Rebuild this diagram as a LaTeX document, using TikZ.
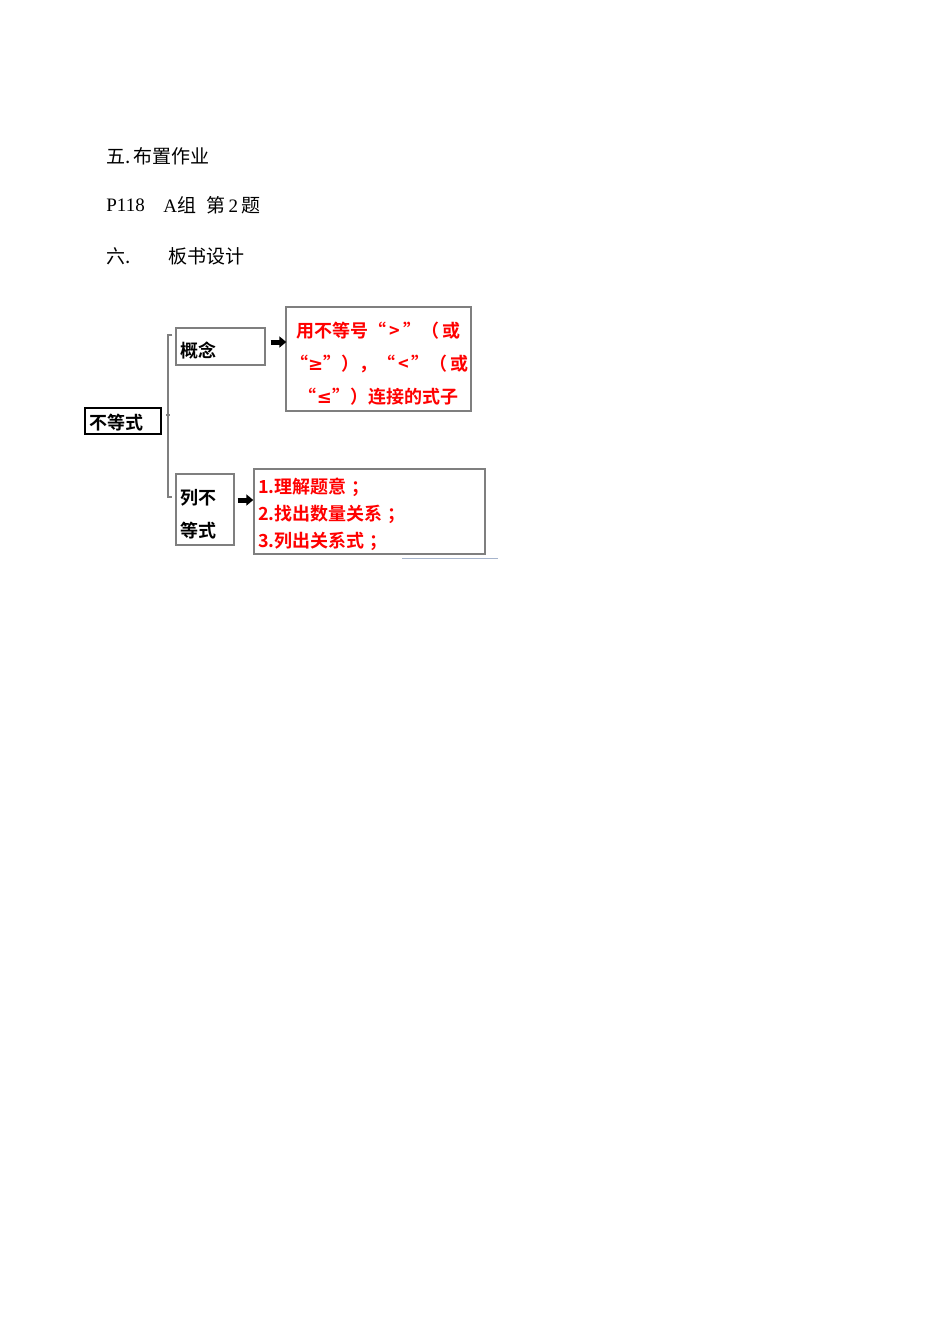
\documentclass[tikz,border=0pt]{standalone}
\usepackage{fontspec}
\usetikzlibrary{arrows.meta,calc}
\newfontfamily\cjk[BoldFont={Noto Sans CJK SC Bold}]{Noto Sans CJK SC}
\newfontfamily\ser{Liberation Serif}
\newfontfamily\symf{DejaVu Sans}
\newcommand\dnx[1]{\rule{0pt}{#1}}
\definecolor{boxgray}{HTML}{7F7F7F}
\definecolor{lineblue}{HTML}{A6B4CC}
\tikzset{
  head/.style={anchor=west, inner sep=0pt, font=\cjk\fontsize{9.5}{11}\selectfont},
  catbox/.style={draw=boxgray, line width=0.7pt, inner xsep=2pt, inner ysep=0pt, align=left,
     font=\cjk\bfseries\fontsize{9}{16.5}\selectfont},
  redbox/.style={draw=boxgray, line width=0.7pt, inner xsep=2pt, inner ysep=0pt, text=red,
     font=\cjk\bfseries\fontsize{9}{16.5}\selectfont},
  brk/.style={draw=boxgray, line width=1pt},
  bigarrow/.style={line width=2.5pt, -{Triangle[length=3.5pt,width=5.5pt]}}
}
\begin{document}
\begin{tikzpicture}[x=0.5pt,y=-0.5pt]
\fill[white] (0,0) rectangle (950,1344);
\useasboundingbox (0,0) rectangle (950,1344);
% headings
\node[head] (h5) at (106,156) {五.\,布置作业};
\node[head, font=\ser\fontsize{9.5}{11}\selectfont] (p118) at (106,205) {P118};
\node[head] (agrp) at (163,205) {{\ser A}组};
\node[head] (q2) at (206,205) {第{\ser\,2\,}题};
\node[head] (h6) at (106,256) {六.};
\node[head] (bsj) at (168,256) {板书设计};
% diagram
\node[catbox, draw=black, line width=0.8pt, minimum height=13pt, text width=34pt] (bds) at (123,421) {\dnx{9.3pt}不等式};
\node[catbox, minimum height=18.5pt, text width=40.5pt] (gn) at (220.5,346.5) {\dnx{11.8pt}概念};
\node[redbox, minimum height=52pt, text width=88.5pt, align=center] (r1) at (378.5,359)
  {\dnx{12.3pt}用不等号“\,>\,”（\,或\\“{\symf\bfseries ≥}”），“\,<\,”（\,或\\“{\symf\bfseries ≤}”）连接的式子};
\node[catbox, minimum height=35.5pt, text width=25pt] (lbs) at (205,509.5) {\dnx{12.8pt}列不\\等式};
\node[redbox, minimum height=42.5pt, text width=111.5pt, align=left,
  font=\cjk\bfseries\fontsize{9}{13.5}\selectfont] (r2) at (369.5,511.5)
  {\dnx{10.8pt}1.理解题意\hspace{2.5pt}；\\2.找出数量关系\hspace{2.5pt}；\\3.列出关系式\hspace{2.5pt}；};
% bracket
\coordinate (bt) at ($(gn.west)+(-3,-11.5)$);
\coordinate (bb) at ($(lbs.west)+(-3,-12.5)$);
\draw[brk] (bt) -- ++(-4,0) -- ($(bb)+(-4,0)$) -- (bb);
\draw[brk] ($(bds.east)+(4,-6)$) -- ($(bds.east)+(8,-6)$);
% arrows
\draw[bigarrow] ($(gn.east)+(5,-4.5)$) -- ($(r1.west |- gn.east)+(1,-4.5)$);
\draw[bigarrow] ($(lbs.east)+(3,-9.5)$) -- ($(r2.west |- lbs.east)+(0,-9.5)$);
% thin line
\coordinate (tl1) at (402,558);
\coordinate (tl2) at (498,558);
\draw[lineblue, line width=0.5pt] (tl1) -- (tl2);
\end{tikzpicture}
\end{document}
